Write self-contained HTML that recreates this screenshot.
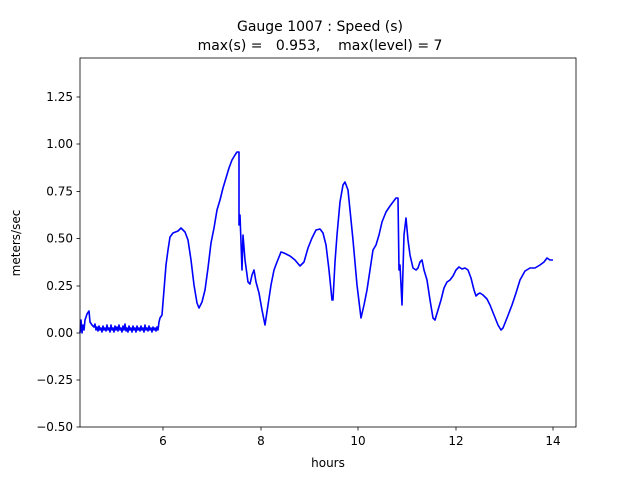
<!DOCTYPE html>
<html><head><meta charset="utf-8"><style>
body{margin:0;background:#fff;}
svg text{font-family:"DejaVu Sans","Liberation Sans",sans-serif;}
</style></head><body>
<svg width="640" height="480" viewBox="0 0 640 480" xmlns="http://www.w3.org/2000/svg">
<rect width="640" height="480" fill="#fff"/>
<text x="320" y="31" font-size="14" text-anchor="middle">Gauge 1007 : Speed (s)</text>
<text x="320" y="50" font-size="14" text-anchor="middle" xml:space="preserve">max(s) =   0.953,    max(level) = 7</text>
<g stroke="#000" stroke-width="0.8">
<line x1="80" y1="333" x2="76.5" y2="333"/>
<line x1="80" y1="427" x2="76.5" y2="427"/>
<line x1="80" y1="380" x2="76.5" y2="380"/>
<line x1="80" y1="286" x2="76.5" y2="286"/>
<line x1="80" y1="238.5" x2="76.5" y2="238.5"/>
<line x1="80" y1="191.5" x2="76.5" y2="191.5"/>
<line x1="80" y1="144" x2="76.5" y2="144"/>
<line x1="80" y1="97" x2="76.5" y2="97"/>
<line x1="163" y1="427" x2="163" y2="430.5"/>
<line x1="261" y1="427" x2="261" y2="430.5"/>
<line x1="358" y1="427" x2="358" y2="430.5"/>
<line x1="456" y1="427" x2="456" y2="430.5"/>
<line x1="553" y1="427" x2="553" y2="430.5"/>
</g>
<g font-size="12" text-anchor="end">
<text x="73" y="101">1.25</text>
<text x="73" y="148">1.00</text>
<text x="73" y="195.5">0.75</text>
<text x="73" y="242.5">0.50</text>
<text x="73" y="290">0.25</text>
<text x="73" y="337">0.00</text>
<text x="73" y="384">−0.25</text>
<text x="73" y="431">−0.50</text>
</g>
<g font-size="12" text-anchor="middle">
<text x="163" y="445">6</text>
<text x="261" y="445">8</text>
<text x="358" y="445">10</text>
<text x="456" y="445">12</text>
<text x="553" y="445">14</text>
<text x="328" y="467">hours</text>
</g>
<text font-size="12" text-anchor="middle" transform="translate(20,243) rotate(-90)">meters/sec</text>
<path fill="none" stroke="#0000ff" stroke-width="1.6" stroke-linejoin="round" d="M80,333 L81,320 82,333 83,325 84,330 85,320 87,314 89,311 90,322 92,325 94,327 95,324 96,330 97,327 98,331 99,326 100,330 101,328 102,332 103,326 104,330 105,328 106,331 107,325 108,330 109,328 110,332 111,325 112,330 113,328 114,332 115,326 116,330 117,327 118,331 119,325 120,330 121,328 122,332 123,326 124,330 125,324 126,331 127,328 128,332 129,326 130,330 131,328 132,332 133,326 134,330 135,328 136,332 137,326 138,330 139,328 140,331 141,326 142,330 143,328 144,332 145,325 146,330 147,328 148,331 149,326 150,330 151,328 152,332 153,327 154,330 155,328 156,331 157,327 158,330 159,322 160,318 162,315 164,290 166,265 168,250 170,237 173,233 178,231 181,228 185,232 188,240 191,260 194,285 197,303 199,308 202,302 205,290 208,268 211,243 214,228 217,210 220,200 223,188 226,178 229,168 232,160 235,155 237,152 239,152 239,225 240,215 242,270 243,235 245,260 248,282 250,284 252,275 254,270 256,282 259,293 262,310 265,325 268,305 271,285 274,270 277,262 281,252 284,253 290,256 295,260 300,266 304,262 308,248 312,238 316,230 320,229 323,233 326,245 329,270 332,300 333,300 335,262 337,235 340,202 343,185 345,182 348,190 350,210 353,240 357,285 361,318 364,305 367,290 370,270 373,250 376,245 379,235 382,222 386,212 390,206 393,202 396,198 398,198 399,270 400,265 402,305 404,235 406,218 408,240 410,255 413,268 416,270 418,268 420,262 422,260 424,270 427,280 430,300 433,318 435,320 438,310 441,300 444,288 447,282 450,280 453,276 456,270 459,267 462,269 465,268 468,270 471,278 474,290 476,296 478,294 480,293 483,295 487,299 490,305 494,315 498,325 501,330 503,328 507,318 512,305 516,293 520,280 525,271 530,268 535,268 540,265 544,262 547,258 550,260 553,260"/>
<rect x="80" y="58" width="496" height="369" fill="none" stroke="#000" stroke-width="0.8"/>
</svg>
</body></html>
